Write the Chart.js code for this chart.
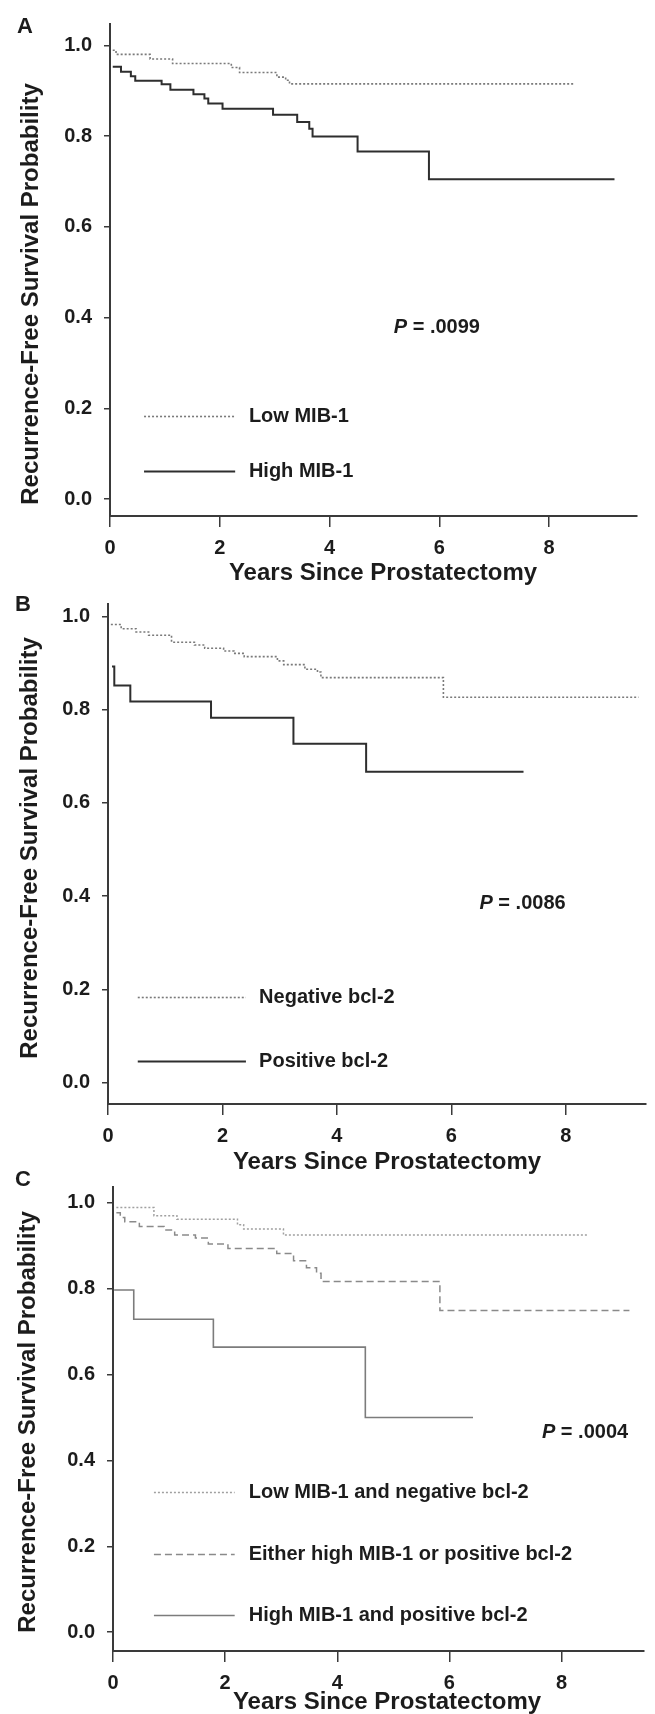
<!DOCTYPE html>
<html>
<head>
<meta charset="utf-8">
<script src="https://cdn.jsdelivr.net/npm/chart.js@4.4.0/dist/chart.umd.min.js"></script>
<style>
  html, body { margin: 0; padding: 0; background: #fff; }
  body { position: relative; width: 655px; height: 1714px; overflow: hidden; }
  canvas { position: absolute; left: 0; }
</style>
</head>
<body>
<canvas id="panelA" width="655" height="600" style="top:0px"></canvas>
<canvas id="panelB" width="655" height="600" style="top:580px"></canvas>
<canvas id="panelC" width="655" height="554" style="top:1160px"></canvas>
<script>
// axis ticks shared by all three panels
const yTicks = [0, 0.2, 0.4, 0.6, 0.8, 1.0];
const xTicks = [0, 2, 4, 6, 8];

// Panel A - MIB-1
const aLabels = ['Low MIB-1', 'High MIB-1'];
const aLowTimes = [0.05, 0.11, 0.73, 1.14, 2.21, 2.36, 3.04, 3.2, 3.27, 8.46];
const aLowSurv  = [0.989, 0.980, 0.970, 0.960, 0.951, 0.940, 0.930, 0.923, 0.915, 0.915];
const aHighTimes = [0.05, 0.2, 0.38, 0.46, 0.94, 1.1, 1.52, 1.72, 1.79, 2.05, 2.97, 3.41, 3.63, 3.69, 4.51, 5.81, 9.19];
const aHighSurv  = [0.953, 0.942, 0.932, 0.922, 0.914, 0.902, 0.892, 0.883, 0.872, 0.860, 0.847, 0.831, 0.816, 0.799, 0.766, 0.705, 0.705];
const aPValue = '.0099';

// Panel B - bcl-2
const bLabels = ['Negative bcl-2', 'Positive bcl-2'];
const bNegTimes = [0.05, 0.23, 0.49, 0.71, 1.11, 1.51, 1.69, 2.02, 2.20, 2.38, 2.96, 3.07, 3.44, 3.66, 3.72, 5.86, 9.27];
const bNegSurv  = [0.983, 0.974, 0.967, 0.960, 0.945, 0.939, 0.932, 0.926, 0.921, 0.914, 0.905, 0.897, 0.887, 0.881, 0.869, 0.827, 0.827];
const bPosTimes = [0.07, 0.11, 0.39, 1.80, 3.24, 4.51, 7.26];
const bPosSurv  = [0.893, 0.852, 0.818, 0.783, 0.727, 0.667, 0.667];
const bPValue = '.0086';

// Panel C - combined
const cLabels = ['Low MIB-1 and negative bcl-2', 'Either high MIB-1 or positive bcl-2', 'High MIB-1 and positive bcl-2'];
const cLowTimes = [0.06, 0.73, 1.14, 2.22, 2.33, 3.04, 8.47];
const cLowSurv  = [0.989, 0.970, 0.962, 0.949, 0.939, 0.925, 0.925];
const cEitherTimes = [0.06, 0.13, 0.21, 0.47, 0.91, 1.10, 1.47, 1.70, 2.05, 2.92, 3.22, 3.45, 3.63, 3.71, 5.83, 9.21];
const cEitherSurv  = [0.977, 0.966, 0.956, 0.945, 0.937, 0.925, 0.918, 0.904, 0.894, 0.882, 0.865, 0.849, 0.836, 0.817, 0.749, 0.749];
const cHighTimes = [0.02, 0.37, 1.79, 4.50, 6.42];
const cHighSurv  = [0.797, 0.729, 0.664, 0.500, 0.500];
const cPValue = '.0004';

const xTitle = 'Years Since Prostatectomy';
const yTitle = 'Recurrence-Free Survival Probability';

const FONT = '"Liberation Sans", Arial, Helvetica, sans-serif';
const TEXT = '#1c1c1c';
const AXIS = '#3a3a3a';

const pts = (times, surv) => times.map((t, i) => ({ x: t, y: surv[i] }));

function line(label, data, color, width, dash) {
    return {
        label: label,
        data: data,
        borderColor: color,
        borderWidth: width,
        borderDash: dash,
        stepped: 'before',
        pointRadius: 0,
        fill: false
    };
}

// draws letter, axis titles, inline legend and P value
const annotate = {
    id: 'annotate',
    afterDraw(chart, args, o) {
        const ctx = chart.ctx;
        const xs = chart.scales.x, ys = chart.scales.y;
        ctx.save();
        ctx.fillStyle = TEXT;
        ctx.textBaseline = 'middle';

        ctx.textAlign = 'center';
        ctx.font = 'bold 22px ' + FONT;
        ctx.fillText(o.letter, o.letterPos[0], o.letterPos[1]);

        ctx.font = 'bold 24px ' + FONT;
        ctx.fillText(xTitle, o.xTitlePos[0], o.xTitlePos[1]);

        ctx.save();
        ctx.translate(o.yTitlePos[0], o.yTitlePos[1]);
        ctx.rotate(-Math.PI / 2);
        ctx.fillText(yTitle, 0, 0);
        ctx.restore();

        // legend inside the plot
        ctx.textAlign = 'left';
        ctx.font = 'bold 20px ' + FONT;
        chart.data.datasets.forEach((ds, i) => {
            const y = Math.round(ys.getPixelForValue(o.legendY[i])) + 0.5;
            ctx.beginPath();
            ctx.strokeStyle = ds.borderColor;
            ctx.lineWidth = ds.borderWidth;
            ctx.setLineDash(ds.borderDash || []);
            ctx.moveTo(xs.getPixelForValue(o.legendX[0]), y);
            ctx.lineTo(xs.getPixelForValue(o.legendX[1]), y);
            ctx.stroke();
            ctx.setLineDash([]);
            ctx.fillText(ds.label, xs.getPixelForValue(o.legendX[2]), y);
        });

        // P value, italic P
        let px = xs.getPixelForValue(o.pPos[0]);
        const py = ys.getPixelForValue(o.pPos[1]);
        ctx.font = 'italic bold 20px ' + FONT;
        ctx.fillText('P', px, py);
        px += ctx.measureText('P').width;
        ctx.font = 'bold 20px ' + FONT;
        ctx.fillText(' = ' + o.pValue, px, py);
        ctx.restore();
    }
};

function makePanel(id, datasets, p) {
    const canvas = document.getElementById(id);
    return new Chart(canvas.getContext('2d'), {
        type: 'line',
        data: { datasets: datasets },
        options: {
            responsive: false,
            animation: false,
            devicePixelRatio: 1,
            layout: { padding: { left: 0, top: p.top, right: p.right, bottom: p.bottom } },
            plugins: {
                legend: { display: false },
                tooltip: { enabled: false },
                annotate: p.notes
            },
            scales: {
                x: {
                    type: 'linear',
                    min: 0,
                    max: p.xMax,
                    afterBuildTicks: s => { s.ticks = xTicks.map(v => ({ value: v })); },
                    afterFit: s => { s.height = p.xHeight; },
                    grid: { drawOnChartArea: false, drawTicks: true, tickLength: 11, color: AXIS, lineWidth: 1.5 },
                    border: { display: true, color: AXIS, width: 2 },
                    ticks: {
                        padding: 9,
                        color: TEXT,
                        maxRotation: 0,
                        font: { family: FONT, size: 20, weight: 'bold' },
                        callback: v => String(v)
                    }
                },
                y: {
                    type: 'linear',
                    min: p.yMin,
                    max: p.yMax,
                    afterBuildTicks: s => { s.ticks = yTicks.map(v => ({ value: v })); },
                    afterFit: s => { s.width = p.left; },
                    grid: { drawOnChartArea: false, drawTicks: true, tickLength: 6, color: AXIS, lineWidth: 1.5 },
                    border: { display: true, color: AXIS, width: 2 },
                    ticks: {
                        padding: 12,
                        color: TEXT,
                        font: { family: FONT, size: 20, weight: 'bold' },
                        callback: v => v.toFixed(1)
                    }
                }
            }
        },
        plugins: [annotate]
    });
}

makePanel('panelA', [
    line(aLabels[0], pts(aLowTimes, aLowSurv), '#7a7a7a', 1.6, [2, 2]),
    line(aLabels[1], pts(aHighTimes, aHighSurv), '#2e2e2e', 2, [])
], {
    top: 12, right: 18, bottom: 24, left: 110, xHeight: 60,
    xMax: 9.6, yMin: -0.037, yMax: 1.047,
    notes: {
        letter: 'A', letterPos: [25, 27],
        xTitlePos: [383, 573], yTitlePos: [31, 294],
        legendX: [0.62, 2.28, 2.53], legendY: [0.183, 0.0625],
        pPos: [5.17, 0.379], pValue: aPValue
    }
});

makePanel('panelB', [
    line(bLabels[0], pts(bNegTimes, bNegSurv), '#7a7a7a', 1.6, [2, 2]),
    line(bLabels[1], pts(bPosTimes, bPosSurv), '#2e2e2e', 2, [])
], {
    top: 12, right: 9, bottom: 16, left: 108, xHeight: 60,
    xMax: 9.4, yMin: -0.046, yMax: 1.027,
    notes: {
        letter: 'B', letterPos: [23, 25],
        xTitlePos: [387, 582], yTitlePos: [30, 268],
        legendX: [0.52, 2.41, 2.64], legendY: [0.184, 0.046],
        pPos: [6.49, 0.384], pValue: bPValue
    }
});

makePanel('panelC', [
    line(cLabels[0], pts(cLowTimes, cLowSurv), '#a0a0a0', 1.5, [2, 2]),
    line(cLabels[1], pts(cEitherTimes, cEitherSurv), '#8a8a8a', 1.5, [7, 4]),
    line(cLabels[2], pts(cHighTimes, cHighSurv), '#7c7c7c', 1.6, [])
], {
    top: 27, right: 11, bottom: 13, left: 113, xHeight: 50,
    xMax: 9.47, yMin: -0.044, yMax: 1.037,
    notes: {
        letter: 'C', letterPos: [23, 20],
        xTitlePos: [387, 542], yTitlePos: [28, 262],
        legendX: [0.73, 2.17, 2.42], legendY: [0.326, 0.182, 0.040],
        pPos: [7.65, 0.464], pValue: cPValue
    }
});
</script>
</body>
</html>
